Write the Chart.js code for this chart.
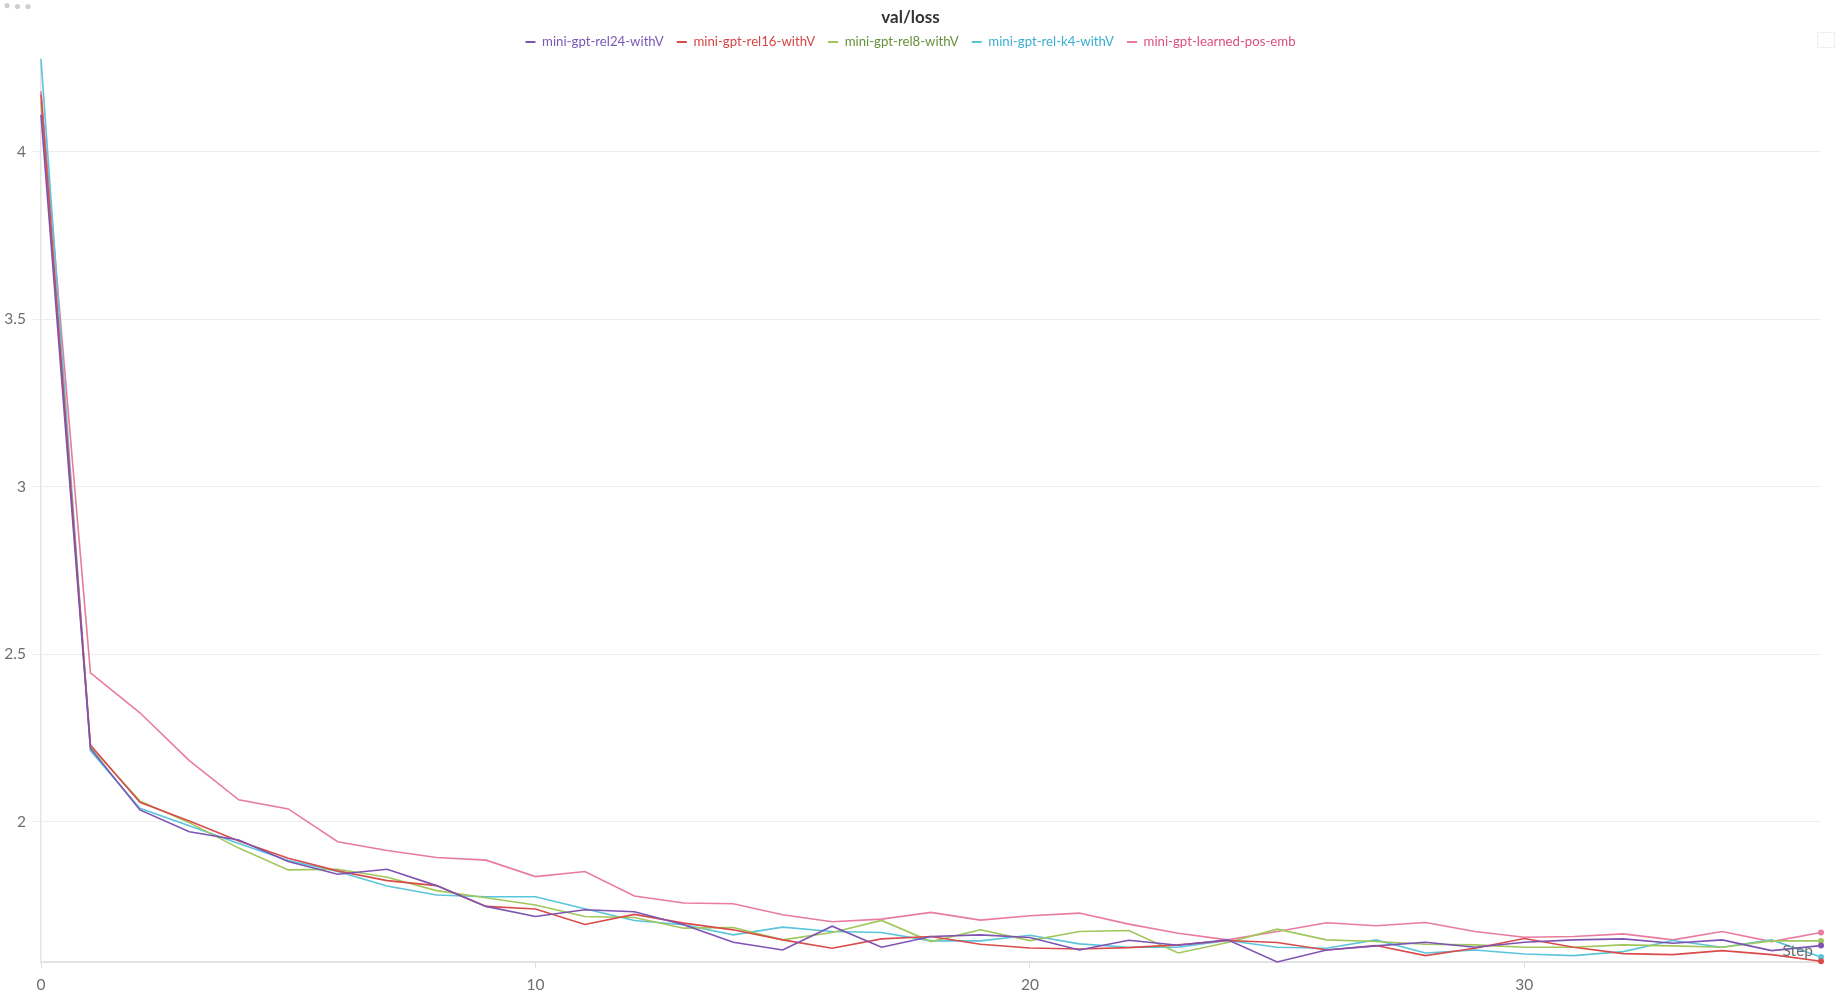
<!DOCTYPE html>
<html>
<head>
<meta charset="utf-8">
<script src="https://cdn.jsdelivr.net/npm/chart.js@4/dist/chart.umd.min.js"></script>
<style>
  html, body { margin: 0; padding: 0; background: #ffffff; }
  #wrap { position: relative; width: 1844px; height: 1005px; }
</style>
</head>
<body>
<div id="wrap"><canvas id="c"></canvas></div>
<script>
const steps = [0,1,2,3,4,5,6,7,8,9,10,11,12,13,14,15,16,17,18,19,20,21,22,23,24,25,26,27,28,29,30,31,32,33,34,35,36];

const seriesNames = ["mini-gpt-rel24-withV", "mini-gpt-rel16-withV", "mini-gpt-rel8-withV", "mini-gpt-rel-k4-withV", "mini-gpt-learned-pos-emb"];

const rel24 = [4.11,2.219,2.035,1.970,1.945,1.881,1.843,1.858,1.809,1.747,1.717,1.737,1.731,1.692,1.640,1.617,1.688,1.625,1.657,1.662,1.654,1.617,1.646,1.631,1.647,1.581,1.617,1.629,1.640,1.625,1.640,1.647,1.650,1.637,1.647,1.615,1.630];
const rel16 = [4.17,2.229,2.058,2.002,1.942,1.891,1.853,1.824,1.809,1.747,1.739,1.693,1.723,1.697,1.677,1.647,1.622,1.650,1.657,1.634,1.623,1.620,1.624,1.632,1.645,1.639,1.617,1.630,1.600,1.622,1.651,1.625,1.606,1.603,1.615,1.603,1.583];
const rel8 = [4.15,2.224,2.062,1.997,1.921,1.856,1.858,1.834,1.794,1.773,1.751,1.717,1.714,1.682,1.684,1.647,1.669,1.705,1.642,1.677,1.645,1.672,1.675,1.608,1.639,1.679,1.647,1.642,1.634,1.632,1.625,1.625,1.632,1.629,1.625,1.644,1.644];
const relK4 = [4.276,2.212,2.040,1.988,1.935,1.884,1.851,1.808,1.781,1.776,1.776,1.740,1.705,1.692,1.662,1.685,1.672,1.669,1.644,1.644,1.661,1.635,1.625,1.625,1.645,1.625,1.622,1.647,1.608,1.617,1.605,1.600,1.612,1.645,1.625,1.647,1.596];
const learnedPos = [4.18,2.444,2.325,2.182,2.065,2.038,1.940,1.914,1.893,1.885,1.836,1.851,1.778,1.757,1.755,1.722,1.701,1.709,1.729,1.706,1.719,1.727,1.694,1.667,1.647,1.672,1.698,1.689,1.699,1.672,1.655,1.657,1.665,1.647,1.672,1.642,1.669];

const yTickValues = [2, 2.5, 3, 3.5, 4];
const xTickValues = [0, 10, 20, 30];

const allSeries = [rel24, rel16, rel8, relK4, learnedPos];
const lineColors = ["#7d54b2", "#da4c4c", "#a0c75c", "#5bc5db", "#e87b9f"];
const textColors = ["#7a58b6", "#d54545", "#65923a", "#38add2", "#dc4f82"];

const yMin = Math.min(...allSeries.flat());
const yMax = Math.max(...allSeries.flat());

const datasets = allSeries.map((vals, i) => ({
  label: seriesNames[i],
  data: vals.map((v, k) => ({ x: steps[k], y: v })),
  borderColor: lineColors[i],
  backgroundColor: lineColors[i],
  borderWidth: 1.6,
  tension: 0,
  pointRadius: (ctx) => ctx.dataIndex === vals.length - 1 ? 3 : 0,
  pointHoverRadius: 0,
  pointBorderWidth: 0,
  clip: false
}));

const TICK_FONT = { family: "Lato, 'Open Sans', sans-serif", size: 15.5 };

const extras = {
  id: 'extras',
  beforeInit(chart) {
    const lg = chart.legend;
    if (lg) {
      const orig = lg.fit;
      lg.fit = function () { orig.call(this); this.height = 36.8; };
    }
  },
  afterDatasetsDraw(chart) {
    const ctx = chart.ctx;
    ctx.save();
    ctx.font = "15.5px Lato, 'Open Sans', sans-serif";
    ctx.fillStyle = "#6f6f6f";
    ctx.textAlign = "right";
    ctx.textBaseline = "middle";
    ctx.fillText("Step", 1813, 951);
    ctx.restore();
  },
  afterDraw(chart) {
    const ctx = chart.ctx;
    ctx.save();
    ctx.fillStyle = "#cfcfd3";
    [[7, 5.5], [17.5, 6.5], [28, 6.5]].forEach(([x, y]) => {
      ctx.beginPath(); ctx.arc(x, y, 2.6, 0, Math.PI * 2); ctx.fill();
    });
    ctx.strokeStyle = "#f0f0f0";
    ctx.lineWidth = 1;
    ctx.strokeRect(1817.5, 32.5, 17, 15);
    ctx.restore();
  }
};

new Chart(document.getElementById('c'), {
  type: 'line',
  data: { datasets },
  options: {
    responsive: true,
    maintainAspectRatio: false,
    animation: false,
    events: [],
    layout: { padding: { left: 0, right: 23, top: 0, bottom: 0 } },
    plugins: {
      title: {
        display: true,
        text: 'val/loss',
        color: '#333333',
        font: { family: "Lato, 'Open Sans', sans-serif", size: 17, weight: 'bold' },
        padding: { top: 7, bottom: -5 }
      },
      legend: {
        display: true,
        position: 'top',
        labels: {
          boxWidth: 10,
          boxHeight: 2,
          padding: 13,
          font: { family: "Lato, 'Open Sans', sans-serif", size: 13.2 },
          generateLabels(chart) {
            return chart.data.datasets.map((ds, i) => ({
              text: ds.label,
              fillStyle: lineColors[i],
              strokeStyle: lineColors[i],
              lineWidth: 0,
              fontColor: textColors[i],
              hidden: false,
              datasetIndex: i
            }));
          }
        }
      },
      tooltip: { enabled: false }
    },
    scales: {
      x: {
        type: 'linear',
        min: steps[0],
        max: steps[steps.length - 1],
        afterFit(s) { s.height = 43; },
        afterBuildTicks(s) { s.ticks = xTickValues.map(v => ({ value: v })); },
        ticks: { font: TICK_FONT, color: '#6f6f6f', padding: 8, maxRotation: 0 },
        grid: { display: true, drawOnChartArea: false, drawTicks: true, tickLength: 6, color: '#dddddd', lineWidth: 1 },
        border: { display: true, color: '#e2e2e2', width: 2 }
      },
      y: {
        type: 'linear',
        min: yMin,
        max: yMax,
        afterFit(s) { s.width = 41; },
        afterBuildTicks(s) { s.ticks = yTickValues.map(v => ({ value: v })); },
        ticks: { font: TICK_FONT, color: '#6f6f6f', padding: 7, callback: (v) => String(v) },
        grid: { display: true, drawTicks: true, tickLength: 8, color: '#eeeeee', lineWidth: 1 },
        border: { display: true, color: '#e4e4e4', width: 1.5 }
      }
    }
  },
  plugins: [extras]
});
</script>
</body>
</html>
